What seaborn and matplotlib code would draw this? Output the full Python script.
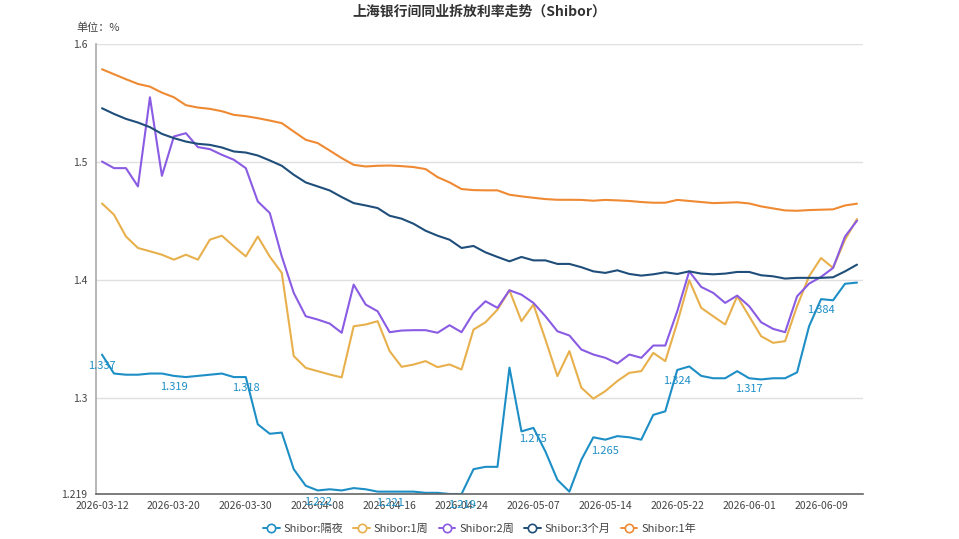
import numpy as np
import pandas as pd
import matplotlib
matplotlib.use("Agg")
import matplotlib.pyplot as plt
from matplotlib.lines import Line2D
import seaborn as sns

## trading days shown on the category axis
dates = [
    "2026-03-12", "2026-03-13", "2026-03-16", "2026-03-17", "2026-03-18", "2026-03-19",
    "2026-03-20", "2026-03-23", "2026-03-24", "2026-03-25", "2026-03-26", "2026-03-27",
    "2026-03-30", "2026-03-31", "2026-04-01", "2026-04-02", "2026-04-03", "2026-04-07",
    "2026-04-08", "2026-04-09", "2026-04-10", "2026-04-13", "2026-04-14", "2026-04-15",
    "2026-04-16", "2026-04-17", "2026-04-20", "2026-04-21", "2026-04-22", "2026-04-23",
    "2026-04-24", "2026-04-27", "2026-04-28", "2026-04-29", "2026-04-30", "2026-05-06",
    "2026-05-07", "2026-05-08", "2026-05-09", "2026-05-11", "2026-05-12", "2026-05-13",
    "2026-05-14", "2026-05-15", "2026-05-18", "2026-05-19", "2026-05-20", "2026-05-21",
    "2026-05-22", "2026-05-25", "2026-05-26", "2026-05-27", "2026-05-28", "2026-05-29",
    "2026-06-01", "2026-06-02", "2026-06-03", "2026-06-04", "2026-06-05", "2026-06-08",
    "2026-06-09", "2026-06-10", "2026-06-11", "2026-06-12",
]

overnight = [1.337, 1.321, 1.320, 1.320, 1.321, 1.321, 1.319, 1.318, 1.319, 1.320,
             1.321, 1.318, 1.318, 1.278, 1.270, 1.271, 1.240, 1.226, 1.222, 1.223,
             1.222, 1.224, 1.223, 1.221, 1.221, 1.221, 1.221, 1.220, 1.220, 1.219,
             1.219, 1.240, 1.242, 1.242, 1.326, 1.272, 1.275, 1.255, 1.231, 1.221,
             1.248, 1.267, 1.265, 1.268, 1.267, 1.265, 1.286, 1.289, 1.324, 1.327,
             1.319, 1.317, 1.317, 1.323, 1.317, 1.316, 1.317, 1.317, 1.322, 1.361,
             1.384, 1.383, 1.397, 1.398]
week1 = [1.465, 1.4555, 1.437, 1.4273, 1.4245, 1.4216, 1.4174, 1.4216, 1.4174, 1.4343,
         1.4377, 1.4287, 1.4202, 1.437, 1.420, 1.4062, 1.3358, 1.3258, 1.323, 1.3202,
         1.3177, 1.361, 1.3625, 1.3653, 1.340, 1.3267, 1.3286, 1.3315, 1.3264, 1.3287,
         1.3244, 1.3582, 1.3644, 1.3751, 1.3915, 1.3653, 1.3794, 1.3498, 1.3188, 1.340,
         1.309, 1.2997, 1.3061, 1.3146, 1.3216, 1.323, 1.3385, 1.3315, 1.3639, 1.400,
         1.3766, 1.3695, 1.3625, 1.3864, 1.3695, 1.3526, 1.347, 1.3484, 1.378, 1.4033,
         1.4188, 1.4104, 1.4343, 1.4518]
week2 = [1.5005, 1.4949, 1.4949, 1.4794, 1.5549, 1.4884, 1.5217, 1.5245, 1.5127, 1.511,
         1.5062, 1.502, 1.4949, 1.4667, 1.4569, 1.4202, 1.3893, 1.3695, 1.3667, 1.3633,
         1.3555, 1.3963, 1.3794, 1.3737, 1.356, 1.3574, 1.3577, 1.3577, 1.3555, 1.3619,
         1.356, 1.3723, 1.3822, 1.3766, 1.3915, 1.3878, 1.3808, 1.3695, 1.3568, 1.3532,
         1.3413, 1.3371, 1.3343, 1.3295, 1.3371, 1.3343, 1.3447, 1.3447, 1.3737, 1.4075,
         1.3943, 1.3893, 1.3808, 1.387, 1.378, 1.3644, 1.3588, 1.356, 1.3864, 1.3971,
         1.4028, 1.4104, 1.437, 1.4504]
month3 = [1.5456, 1.5408, 1.5366, 1.5335, 1.5296, 1.5239, 1.5203, 1.5174, 1.5155, 1.5146,
          1.5124, 1.509, 1.5081, 1.5056, 1.5014, 1.4969, 1.4893, 1.4828, 1.4794, 1.476,
          1.4704, 1.4653, 1.4633, 1.4611, 1.4546, 1.4521, 1.4478, 1.4419, 1.4377, 1.4343,
          1.4273, 1.429, 1.4236, 1.4197, 1.416, 1.4197, 1.4168, 1.4168, 1.4138, 1.4138,
          1.411, 1.4075, 1.4062, 1.4084, 1.4053, 1.4039, 1.405, 1.4067, 1.4053, 1.4075,
          1.4056, 1.405, 1.4056, 1.407, 1.407, 1.4042, 1.4033, 1.4014, 1.402, 1.402,
          1.402, 1.4025, 1.4075, 1.4132]
year1 = [1.5786, 1.5744, 1.5702, 1.5662, 1.5639, 1.5588, 1.5549, 1.5482, 1.5462, 1.5451,
         1.5431, 1.54, 1.5389, 1.5372, 1.5352, 1.533, 1.5259, 1.5189, 1.5161, 1.5098,
         1.5034, 1.4977, 1.4963, 1.4969, 1.4971, 1.4966, 1.4958, 1.4941, 1.4873, 1.4828,
         1.4772, 1.4763, 1.4761, 1.4761, 1.4724, 1.471, 1.4698, 1.4687, 1.4681, 1.4681,
         1.468, 1.4673, 1.468, 1.4676, 1.4671, 1.4662, 1.4656, 1.4656, 1.468, 1.4671,
         1.4662, 1.4653, 1.4656, 1.466, 1.465, 1.4625, 1.4608, 1.4591, 1.4588, 1.4594,
         1.4597, 1.46, 1.4633, 1.4648]

series_names = ["Shibor:隔夜", "Shibor:1周", "Shibor:2周", "Shibor:3个月", "Shibor:1年"]
colors = ["#1d8fc6", "#e8b04c", "#8a5be3", "#1f4e7a", "#ef8a33"]

sns.set_theme(style="white")
plt.rcParams["font.family"] = ["Noto Sans CJK SC", "DejaVu Sans"]

rows = []
for name, vals in zip(series_names, [overnight, week1, week2, month3, year1]):
    for i, v in enumerate(vals):
        rows.append({"idx": i, "date": dates[i], "rate": v, "series": name})
df = pd.DataFrame(rows)

fig = plt.figure(figsize=(9.59, 5.39), dpi=100)
ax = fig.add_axes([96 / 959, 1 - 494 / 539, 767 / 959, 450 / 539])

sns.lineplot(data=df, x="idx", y="rate", hue="series", hue_order=series_names,
             palette=dict(zip(series_names, colors)), linewidth=1.5, legend=False, ax=ax)

# value labels on the overnight line, every 6th point
for i in range(0, len(overnight), 6):
    ax.annotate(f"{overnight[i]:.3f}", (i, overnight[i]), xytext=(0, -8),
                textcoords="offset points", ha="center", va="center",
                fontsize=8, color=colors[0])

ax.set_xlim(-0.5, len(dates) - 0.5)
ax.set_ylim(1.219, 1.6)

# category axis: ticks on boundaries, labels centred in bins
bounds = list(np.arange(-0.5, len(dates), 6)) + [len(dates) - 0.5]
ax.set_xticks(bounds)
ax.set_xticklabels([])
ax.set_xticks(list(range(0, len(dates), 6)), minor=True)
ax.set_xticklabels([dates[i] for i in range(0, len(dates), 6)], minor=True)
ax.tick_params(axis="x", which="major", length=4, width=1, color="#666666", direction="out")
ax.tick_params(axis="x", which="minor", length=0, labelsize=7.5, labelcolor="#444444", pad=5)

ax.set_yticks([1.219, 1.3, 1.4, 1.5, 1.6])
ax.set_yticklabels(["1.219", "1.3", "1.4", "1.5", "1.6"])
ax.tick_params(axis="y", length=4, width=1, color="#999999", direction="out",
               labelsize=7.5, labelcolor="#444444", pad=2)

for yv in [1.3, 1.4, 1.5, 1.6]:
    ax.axhline(yv, color="#e0e0e0", linewidth=1, zorder=0)

ax.set_xlabel("")
ax.set_ylabel("")
for s in ["top", "right"]:
    ax.spines[s].set_visible(False)
ax.spines["left"].set_color("#aaaaaa")
ax.spines["left"].set_linewidth(1.2)
ax.spines["bottom"].set_color("#666666")
ax.spines["bottom"].set_linewidth(1.2)

fig.text(0.5, 1 - 12 / 539, "上海银行间同业拆放利率走势（Shibor）", ha="center", va="center",
         fontsize=10, fontweight="bold", color="#333333")
fig.text(76 / 959, 1 - 28 / 539, "单位：%", ha="left", va="center", fontsize=8, color="#444444")

handles = [Line2D([], [], color=c, lw=1.4, marker="o", markersize=6,
                  markerfacecolor="white", markeredgewidth=1.2) for c in colors]
fig.legend(handles, series_names, loc="center", bbox_to_anchor=(0.5, 1 - 529 / 539),
           ncol=5, frameon=False, fontsize=8, handlelength=1.5, handletextpad=0.35,
           columnspacing=0.9, labelcolor="#444444")

fig.savefig("out.png", dpi=100)
